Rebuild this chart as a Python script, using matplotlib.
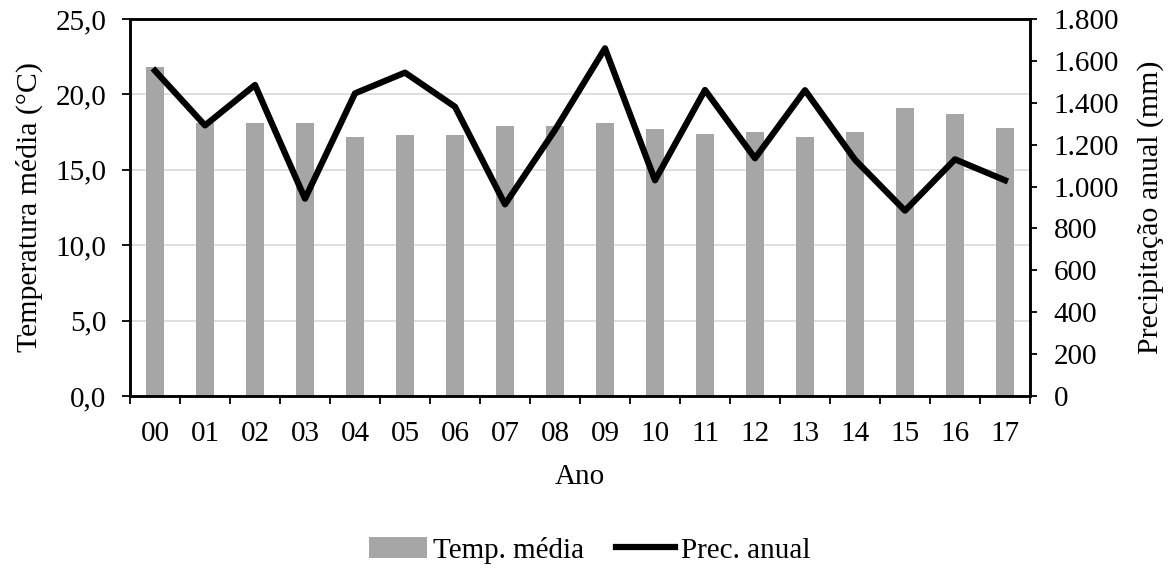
import matplotlib
matplotlib.use("Agg")
import matplotlib.pyplot as plt
from matplotlib.ticker import FixedLocator, FuncFormatter
import numpy as np

years = ["00", "01", "02", "03", "04", "05", "06", "07", "08", "09",
         "10", "11", "12", "13", "14", "15", "16", "17"]
temp_media = [21.8, 18.1, 18.1, 18.1, 17.2, 17.3, 17.3, 17.9, 17.9, 18.1,
              17.7, 17.4, 17.5, 17.2, 17.5, 19.1, 18.7, 17.8]
prec_anual = [1553, 1292, 1485, 942, 1445, 1544, 1381, 915, 1270, 1660,
              1030, 1461, 1135, 1460, 1128, 885, 1130, 1030]

plt.rcParams['font.family'] = ['Liberation Serif', 'DejaVu Serif']
fs = 21
fl = 21.5

fig = plt.figure(figsize=(11.72, 5.69), dpi=100)
ax = fig.add_axes([130/1172, 1-396/569, 900/1172, 377/569])
x = np.arange(len(years))
bars = ax.bar(x, temp_media, width=0.36, color='#a6a6a6', zorder=2, label='Temp. média')
ax.set_xlim(-0.5, len(years)-0.5)
ax.set_ylim(0, 25)
ax.set_yticks([0, 5, 10, 15, 20, 25])
ax.yaxis.set_major_formatter(FuncFormatter(lambda v, p: f"{v:.1f}".replace('.', ',')))
ax.grid(axis='y', color='#d9d9d9', linewidth=1.2, zorder=0)
ax.set_xticks(x)
ax.set_xticklabels(years)
ax.xaxis.set_minor_locator(FixedLocator(np.arange(-0.5, len(years), 1)))
ax.tick_params(axis='x', which='major', length=0, pad=18, labelsize=fs)
ax.tick_params(axis='x', which='minor', length=6, width=1.3, direction='out')
ax.tick_params(axis='y', length=6, width=1.3, direction='out', labelsize=fs, pad=11)
for s in ax.spines.values():
    s.set_linewidth(1.8)
ax.set_ylabel('Temperatura média (°C)', fontsize=fl, labelpad=9)
ax.set_xlabel('Ano', fontsize=fs, labelpad=12)

ax2 = ax.twinx()
line, = ax2.plot(x, prec_anual, color='black', linewidth=4.5, zorder=3, label='Prec. anual')
ax2.set_ylim(0, 1800)
ax2.set_yticks(np.arange(0, 1801, 200))
ax2.yaxis.set_major_formatter(FuncFormatter(lambda v, p: f"{int(v):,}".replace(',', '.')))
ax2.tick_params(axis='y', length=5, width=1.3, direction='out', labelsize=fs, pad=12)
ax2.set_ylabel('Precipitação anual (mm)', fontsize=fl, labelpad=13)
for s in ax2.spines.values():
    s.set_linewidth(1.8)

fig.legend([bars, line], ['Temp. média', 'Prec. anual'], loc='center',
           bbox_to_anchor=(0.503, 1-550/569), ncol=2, frameon=False, fontsize=fs,
           handlelength=2.0, handletextpad=0.2, columnspacing=1.1)

fig.savefig('out.png', dpi=100)
